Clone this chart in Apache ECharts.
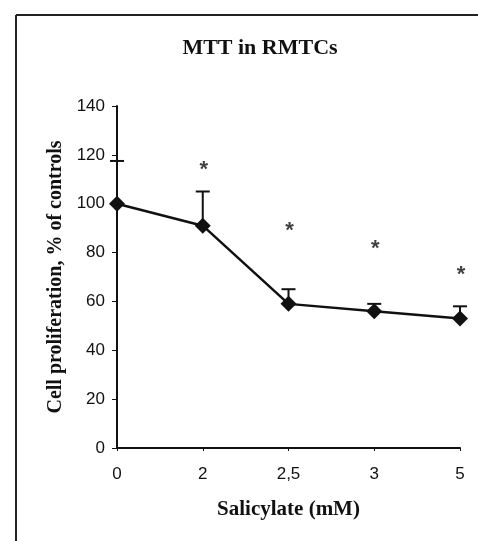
<!DOCTYPE html>
<html>
<head>
<meta charset="utf-8">
<script src="https://cdn.jsdelivr.net/npm/echarts@6/dist/echarts.min.js"></script>
<style>html,body{margin:0;padding:0;background:#fff;}#c{width:478px;height:541px;}</style>
</head>
<body>
<div id="c"></div>
<script>
var categories = ['0', '2', '2,5', '3', '5'];
var means = [100, 91, 59, 56, 53];
var upperErrors = [117.5, 105, 65, 59, 58];
var asterisks = [null, 116, 91, 83.5, 73];
var yTicks = [0, 20, 40, 60, 80, 100, 120, 140];

var chart = echarts.init(document.getElementById('c'));
var errData = categories.map(function (c, i) { return [i, means[i], upperErrors[i]]; });
var starData = categories.map(function (c, i) { return asterisks[i] == null ? null : [i, asterisks[i]]; }).filter(function (d) { return d; });

chart.setOption({
  animation: false,
  backgroundColor: '#fff',
  title: {
    text: 'MTT in RMTCs',
    left: 255, top: 32, textAlign: 'center',
    textStyle: { fontFamily: 'Liberation Serif', fontWeight: 'bold', fontSize: 22, color: '#111' }
  },
  graphic: [
    { type: 'line', shape: { x1: 16, y1: 15, x2: 16, y2: 541 }, style: { stroke: '#222', lineWidth: 2 } },
    { type: 'line', shape: { x1: 16, y1: 15, x2: 478, y2: 15 }, style: { stroke: '#222', lineWidth: 2 } }
  ],
  grid: { left: 117, right: 18, top: 106, bottom: 93 },
  xAxis: {
    type: 'category', data: categories, boundaryGap: false,
    name: 'Salicylate (mM)', nameLocation: 'middle', nameGap: 51,
    nameTextStyle: { fontFamily: 'Liberation Serif', fontWeight: 'bold', fontSize: 21, color: '#111' },
    axisLine: { lineStyle: { color: '#111', width: 2 } },
    axisTick: { show: true, length: 3, lineStyle: { color: '#111' } },
    axisLabel: { fontFamily: 'Liberation Sans', fontSize: 17, color: '#111', margin: 18 },
    splitLine: { show: false }
  },
  yAxis: {
    type: 'value', min: yTicks[0], max: yTicks[yTicks.length - 1], interval: 20,
    name: 'Cell proliferation, % of controls', nameLocation: 'middle', nameGap: 51,
    nameTextStyle: { fontFamily: 'Liberation Serif', fontWeight: 'bold', fontSize: 20, color: '#111' },
    axisLine: { show: true, lineStyle: { color: '#111', width: 2 } },
    axisTick: { show: true, length: 5, lineStyle: { color: '#111' } },
    axisLabel: { fontFamily: 'Liberation Sans', fontSize: 17, color: '#111', margin: 12 },
    splitLine: { show: false }
  },
  series: [
    {
      type: 'custom',
      data: errData,
      z: 1,
      renderItem: function (params, api) {
        var p0 = api.coord([api.value(0), api.value(1)]);
        var p1 = api.coord([api.value(0), api.value(2)]);
        var hw = 7;
        return {
          type: 'group',
          children: [
            { type: 'line', shape: { x1: p0[0], y1: p0[1], x2: p1[0], y2: p1[1] }, style: { stroke: '#111', lineWidth: 2 } },
            { type: 'line', shape: { x1: p1[0] - hw, y1: p1[1], x2: p1[0] + hw, y2: p1[1] }, style: { stroke: '#111', lineWidth: 2 } }
          ]
        };
      }
    },
    {
      type: 'line',
      data: means,
      z: 3,
      symbol: 'diamond', symbolSize: 16,
      lineStyle: { color: '#111', width: 2.5 },
      itemStyle: { color: '#111' }
    },
    {
      type: 'scatter',
      data: starData,
      symbolSize: 0,
      itemStyle: { color: 'transparent' },
      label: {
        show: true, position: 'inside', formatter: '*', offset: [1, 5],
        fontFamily: 'Liberation Sans', fontWeight: 'bold', fontSize: 22, color: '#111'
      }
    }
  ]
});
</script>
</body>
</html>
